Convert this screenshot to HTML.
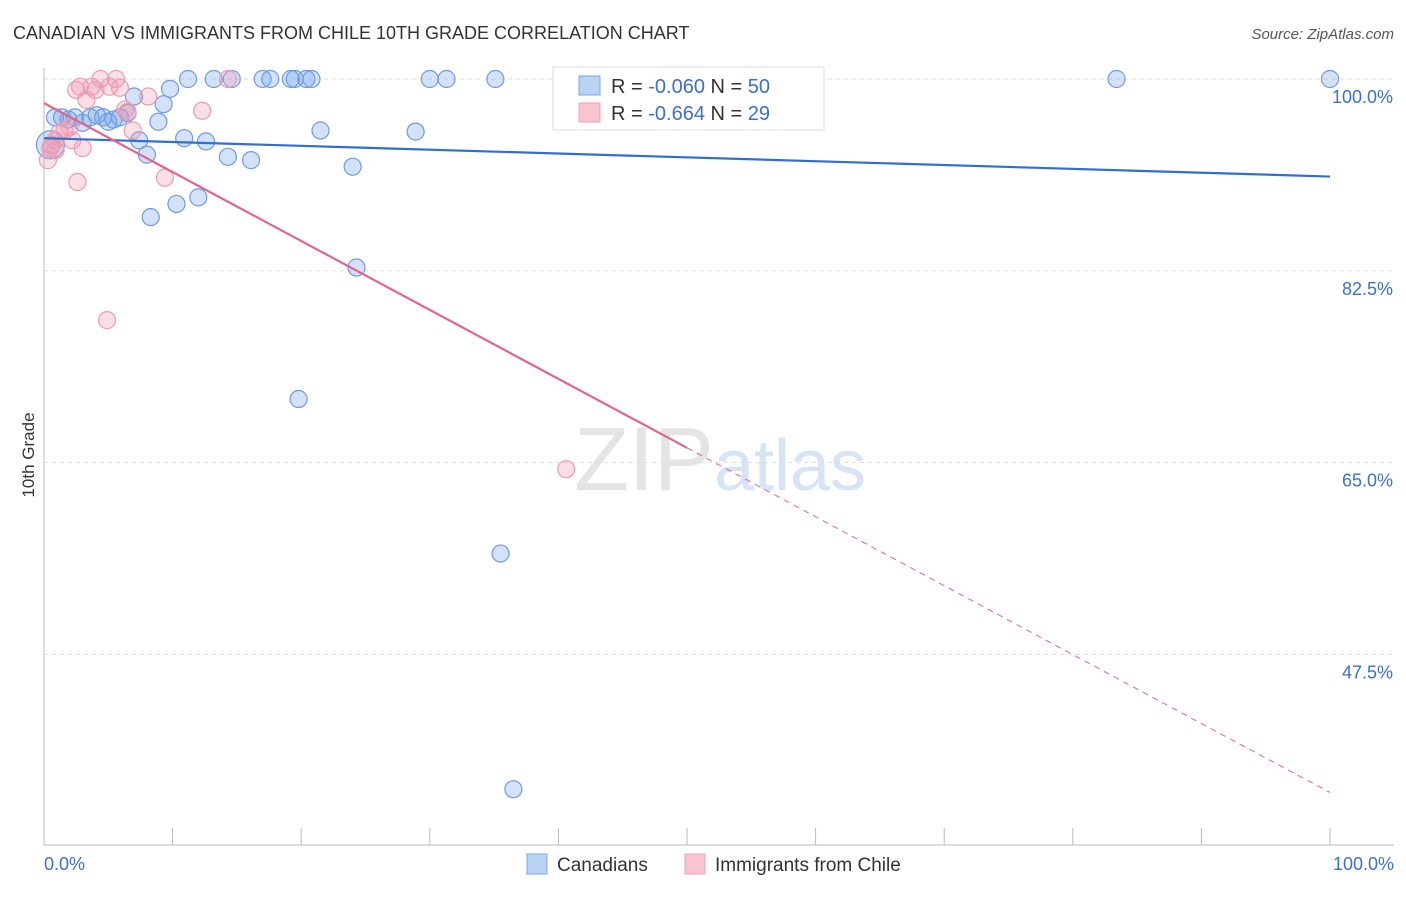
<!DOCTYPE html>
<html><head><meta charset="utf-8"><style>
body{margin:0;background:#fff;font-family:"Liberation Sans",sans-serif;}
svg text{font-family:"Liberation Sans",sans-serif;}
</style></head><body>
<svg width="1406" height="892" viewBox="0 0 1406 892">
<text x="13" y="39" font-size="18" fill="#333">CANADIAN VS IMMIGRANTS FROM CHILE 10TH GRADE CORRELATION CHART</text>
<text x="1394" y="39" font-size="15" fill="#555" text-anchor="end" font-style="italic">Source: ZipAtlas.com</text>
<text x="720" y="490" font-size="90" fill="#e4e4e4" text-anchor="middle" font-family="Liberation Serif">ZIP<tspan fill="#d6e4f5" font-family="Liberation Sans" font-size="72">atlas</tspan></text>
<g id="grid"></g><g id="axes"></g><g id="pts"></g><g id="lines"></g>
<text transform="translate(34,455) rotate(-90)" font-size="17" fill="#333" text-anchor="middle">10th Grade</text>
<g>
<rect x="553" y="67" width="271" height="63" fill="#fff" stroke="#ddd"/>
<rect x="579" y="76" width="21" height="19" fill="#b9d3f5" stroke="#7aa7e8"/>
<rect x="579" y="103" width="21" height="19" fill="#f9c4d2" stroke="#eea0b5"/>
<text x="611" y="93" font-size="20" fill="#333">R = <tspan fill="#3b6fd4">-0.060</tspan>   N = <tspan fill="#3b6fd4">50</tspan></text>
<text x="611" y="120" font-size="20" fill="#333">R =  <tspan fill="#3b6fd4">-0.664</tspan>   N =  <tspan fill="#3b6fd4">29</tspan></text>
</g>
<g>
<rect x="527" y="854" width="20" height="20" fill="#b9d3f5" stroke="#7aa7e8"/>
<text x="557" y="871" font-size="19" fill="#333">Canadians</text>
<rect x="685" y="854" width="20" height="20" fill="#f9c4d2" stroke="#eea0b5"/>
<text x="715" y="871" font-size="19" fill="#333">Immigrants from Chile</text>
</g>
<text x="44" y="870" font-size="18" fill="#3b6fd4">0.0%</text>
<text x="1394" y="870" font-size="18" fill="#3b6fd4" text-anchor="end">100.0%</text>
</svg>
<script>
const yTicks=[100,82.5,65,47.5];
const yTickLabels=["100.0%","82.5%","65.0%","47.5%"];
const xTicks=[0,10,20,30,40,50,60,70,80,90,100];
const blueX=[0.86,1.4,1.9,2.4,3.0,3.6,4.1,4.6,5.0,5.4,5.9,6.5,7.0,7.4,8.0,8.3,8.9,9.3,9.8,10.3,10.9,11.2,12.0,12.6,13.2,14.3,14.6,16.1,17.0,17.6,19.2,19.5,20.4,20.8,19.8,21.5,24.0,24.3,28.9,30.0,31.3,35.1,35.5,36.5,40.9,47.7,56.5,83.4,100,0.5];
const blueY=[96.5,96.5,96.3,96.5,96.0,96.5,96.7,96.5,96.1,96.3,96.5,96.9,98.4,94.4,93.1,87.4,96.1,97.7,99.1,88.6,94.6,100,89.2,94.3,100,92.9,100,92.6,100,100,100,100,100,100,70.8,95.3,92.0,82.8,95.2,100,100,100,56.7,35.2,100,100,100,100,100,94.0];
const pinkX=[0.3,0.5,0.6,0.9,1.2,1.6,2.0,2.2,2.5,2.6,2.8,3.0,3.3,3.7,4.0,4.4,4.9,5.1,5.6,5.9,6.3,6.5,6.9,8.1,9.4,12.3,14.3,40.6,0.86];
const pinkY=[92.6,93.7,94.0,93.5,95.1,95.3,95.6,94.4,99.0,90.6,99.3,93.7,98.1,99.3,99.0,100,78.0,99.3,100,99.2,97.2,97.0,95.3,98.4,91.0,97.1,100,64.4,94.4];
const blueTrend=[94.6,91.1];
const pinkTrend=[97.8,34.9];
const NS="http://www.w3.org/2000/svg";
const X=v=>44+v*12.86, Y=v=>79+(100-v)*10.96;
function mk(tag,attrs,parent){const e=document.createElementNS(NS,tag);for(const k in attrs)e.setAttribute(k,attrs[k]);document.getElementById(parent).appendChild(e);return e;}
yTicks.forEach((t,i)=>{
 const l=mk('line',{x1:44,x2:1394,y1:Y(t),y2:Y(t),stroke:'#ddd','stroke-dasharray':'4,4'},'grid');
 
 
 const tx=mk('text',{x:1393,y:Y(t)+24,'font-size':18,fill:'#3b6fd4','text-anchor':'end'},'grid');
 tx.textContent=yTickLabels[i];
 
 
});
const ax=mk('line',{x1:44,x2:1394,y1:845,y2:845,stroke:'#bbb'},'axes');


const ay=mk('line',{x1:44,x2:44,y1:68,y2:845,stroke:'#bbb'},'axes');


xTicks.forEach(t=>{
 const l=mk('line',{x1:X(t),x2:X(t),y1:828,y2:845,stroke:'#bbb'},'axes');
 
 
});
blueX.forEach((v,i)=>{
 const c=mk('circle',{cx:X(v),cy:Y(blueY[i]),r:(i==blueX.length-1)?14:8.5,fill:'rgba(110,160,235,0.3)',stroke:'#6f9be0','stroke-width':1.2},'pts');
 
 
});
pinkX.forEach((v,i)=>{
 const c=mk('circle',{cx:X(v),cy:Y(pinkY[i]),r:8.5,fill:'rgba(240,150,175,0.3)',stroke:'#eb9db2','stroke-width':1.2},'pts');
 
 
});
const bl=mk('line',{x1:X(0),y1:Y(blueTrend[0]),x2:X(100),y2:Y(blueTrend[1]),stroke:'#2e6fd6','stroke-width':2.2},'lines');


const pm=pinkTrend[0]+(pinkTrend[1]-pinkTrend[0])*0.5;
const pl=mk('line',{x1:X(0),y1:Y(pinkTrend[0]),x2:X(50),y2:Y(pm),stroke:'#e5648f','stroke-width':2.2},'lines');


const pd=mk('line',{x1:X(50),y1:Y(pm),x2:X(100),y2:Y(pinkTrend[1]),stroke:'#e5648f','stroke-width':1,'stroke-dasharray':'6,5'},'lines');


</script>
</body></html>
